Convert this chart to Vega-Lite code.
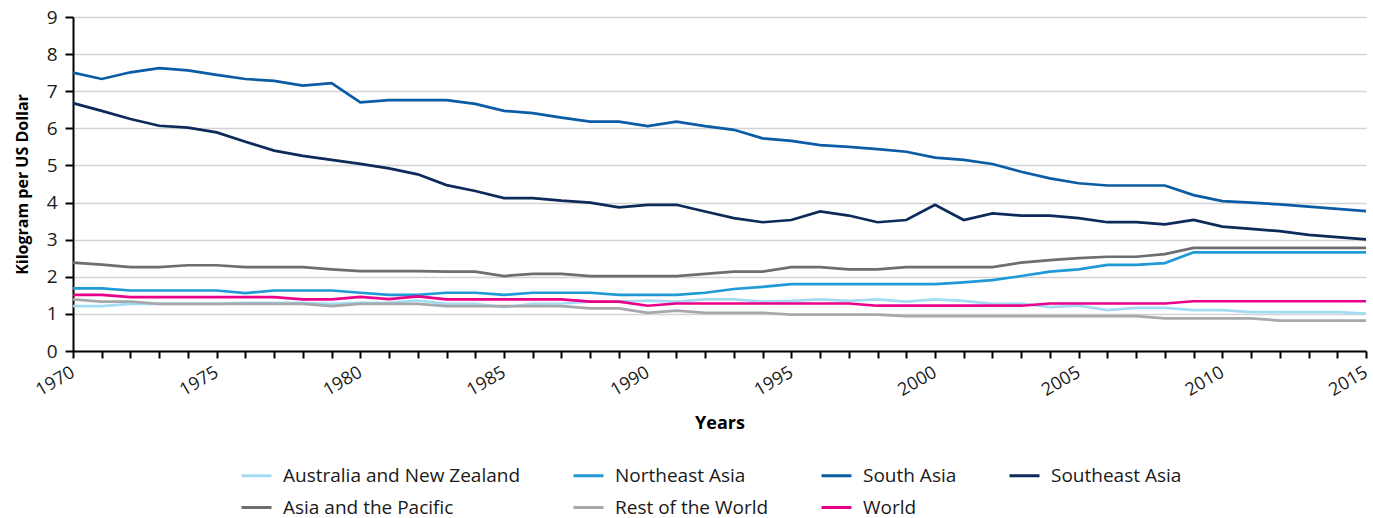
{
  "$schema": "https://vega.github.io/schema/vega-lite/v6.json",
  "width": 1293,
  "height": 334,
  "autosize": {"type": "none"},
  "padding": {"left": 73, "top": 17, "right": 7, "bottom": 167},
  "background": "white",
  "config": {
    "font": "Open Sans",
    "view": {"stroke": null}
  },
  "data": {
    "values": [
      {"year": 1970, "Australia and New Zealand": 1.21, "Northeast Asia": 1.69, "South Asia": 7.5, "Southeast Asia": 6.68, "Asia and the Pacific": 2.38, "Rest of the World": 1.39, "World": 1.51},
      {"year": 1971, "Australia and New Zealand": 1.21, "Northeast Asia": 1.69, "South Asia": 7.33, "Southeast Asia": 6.47, "Asia and the Pacific": 2.33, "Rest of the World": 1.33, "World": 1.51},
      {"year": 1972, "Australia and New Zealand": 1.27, "Northeast Asia": 1.63, "South Asia": 7.51, "Southeast Asia": 6.25, "Asia and the Pacific": 2.26, "Rest of the World": 1.33, "World": 1.45},
      {"year": 1973, "Australia and New Zealand": 1.27, "Northeast Asia": 1.63, "South Asia": 7.62, "Southeast Asia": 6.07, "Asia and the Pacific": 2.26, "Rest of the World": 1.27, "World": 1.45},
      {"year": 1974, "Australia and New Zealand": 1.27, "Northeast Asia": 1.63, "South Asia": 7.56, "Southeast Asia": 6.02, "Asia and the Pacific": 2.31, "Rest of the World": 1.27, "World": 1.45},
      {"year": 1975, "Australia and New Zealand": 1.27, "Northeast Asia": 1.63, "South Asia": 7.44, "Southeast Asia": 5.89, "Asia and the Pacific": 2.31, "Rest of the World": 1.27, "World": 1.45},
      {"year": 1976, "Australia and New Zealand": 1.3, "Northeast Asia": 1.56, "South Asia": 7.33, "Southeast Asia": 5.64, "Asia and the Pacific": 2.26, "Rest of the World": 1.27, "World": 1.45},
      {"year": 1977, "Australia and New Zealand": 1.3, "Northeast Asia": 1.63, "South Asia": 7.28, "Southeast Asia": 5.4, "Asia and the Pacific": 2.26, "Rest of the World": 1.27, "World": 1.45},
      {"year": 1978, "Australia and New Zealand": 1.3, "Northeast Asia": 1.63, "South Asia": 7.15, "Southeast Asia": 5.26, "Asia and the Pacific": 2.26, "Rest of the World": 1.27, "World": 1.39},
      {"year": 1979, "Australia and New Zealand": 1.27, "Northeast Asia": 1.63, "South Asia": 7.22, "Southeast Asia": 5.15, "Asia and the Pacific": 2.2, "Rest of the World": 1.21, "World": 1.39},
      {"year": 1980, "Australia and New Zealand": 1.3, "Northeast Asia": 1.57, "South Asia": 6.7, "Southeast Asia": 5.04, "Asia and the Pacific": 2.15, "Rest of the World": 1.27, "World": 1.46},
      {"year": 1981, "Australia and New Zealand": 1.3, "Northeast Asia": 1.51, "South Asia": 6.76, "Southeast Asia": 4.92, "Asia and the Pacific": 2.15, "Rest of the World": 1.27, "World": 1.4},
      {"year": 1982, "Australia and New Zealand": 1.36, "Northeast Asia": 1.51, "South Asia": 6.76, "Southeast Asia": 4.76, "Asia and the Pacific": 2.15, "Rest of the World": 1.27, "World": 1.47},
      {"year": 1983, "Australia and New Zealand": 1.27, "Northeast Asia": 1.57, "South Asia": 6.76, "Southeast Asia": 4.47, "Asia and the Pacific": 2.14, "Rest of the World": 1.21, "World": 1.39},
      {"year": 1984, "Australia and New Zealand": 1.27, "Northeast Asia": 1.57, "South Asia": 6.66, "Southeast Asia": 4.31, "Asia and the Pacific": 2.14, "Rest of the World": 1.21, "World": 1.39},
      {"year": 1985, "Australia and New Zealand": 1.18, "Northeast Asia": 1.51, "South Asia": 6.47, "Southeast Asia": 4.12, "Asia and the Pacific": 2.02, "Rest of the World": 1.21, "World": 1.39},
      {"year": 1986, "Australia and New Zealand": 1.27, "Northeast Asia": 1.57, "South Asia": 6.41, "Southeast Asia": 4.12, "Asia and the Pacific": 2.08, "Rest of the World": 1.21, "World": 1.39},
      {"year": 1987, "Australia and New Zealand": 1.28, "Northeast Asia": 1.57, "South Asia": 6.29, "Southeast Asia": 4.05, "Asia and the Pacific": 2.08, "Rest of the World": 1.21, "World": 1.39},
      {"year": 1988, "Australia and New Zealand": 1.33, "Northeast Asia": 1.57, "South Asia": 6.18, "Southeast Asia": 4.0, "Asia and the Pacific": 2.02, "Rest of the World": 1.15, "World": 1.33},
      {"year": 1989, "Australia and New Zealand": 1.33, "Northeast Asia": 1.51, "South Asia": 6.18, "Southeast Asia": 3.87, "Asia and the Pacific": 2.02, "Rest of the World": 1.15, "World": 1.33},
      {"year": 1990, "Australia and New Zealand": 1.36, "Northeast Asia": 1.51, "South Asia": 6.06, "Southeast Asia": 3.94, "Asia and the Pacific": 2.02, "Rest of the World": 1.03, "World": 1.22},
      {"year": 1991, "Australia and New Zealand": 1.33, "Northeast Asia": 1.51, "South Asia": 6.18, "Southeast Asia": 3.94, "Asia and the Pacific": 2.02, "Rest of the World": 1.09, "World": 1.28},
      {"year": 1992, "Australia and New Zealand": 1.39, "Northeast Asia": 1.57, "South Asia": 6.06, "Southeast Asia": 3.76, "Asia and the Pacific": 2.08, "Rest of the World": 1.03, "World": 1.28},
      {"year": 1993, "Australia and New Zealand": 1.39, "Northeast Asia": 1.67, "South Asia": 5.96, "Southeast Asia": 3.58, "Asia and the Pacific": 2.14, "Rest of the World": 1.03, "World": 1.28},
      {"year": 1994, "Australia and New Zealand": 1.33, "Northeast Asia": 1.73, "South Asia": 5.73, "Southeast Asia": 3.47, "Asia and the Pacific": 2.14, "Rest of the World": 1.03, "World": 1.28},
      {"year": 1995, "Australia and New Zealand": 1.35, "Northeast Asia": 1.8, "South Asia": 5.66, "Southeast Asia": 3.53, "Asia and the Pacific": 2.26, "Rest of the World": 0.98, "World": 1.28},
      {"year": 1996, "Australia and New Zealand": 1.39, "Northeast Asia": 1.8, "South Asia": 5.55, "Southeast Asia": 3.76, "Asia and the Pacific": 2.26, "Rest of the World": 0.98, "World": 1.28},
      {"year": 1997, "Australia and New Zealand": 1.35, "Northeast Asia": 1.8, "South Asia": 5.5, "Southeast Asia": 3.65, "Asia and the Pacific": 2.2, "Rest of the World": 0.98, "World": 1.28},
      {"year": 1998, "Australia and New Zealand": 1.39, "Northeast Asia": 1.8, "South Asia": 5.44, "Southeast Asia": 3.47, "Asia and the Pacific": 2.2, "Rest of the World": 0.98, "World": 1.22},
      {"year": 1999, "Australia and New Zealand": 1.33, "Northeast Asia": 1.8, "South Asia": 5.37, "Southeast Asia": 3.53, "Asia and the Pacific": 2.26, "Rest of the World": 0.94, "World": 1.22},
      {"year": 2000, "Australia and New Zealand": 1.39, "Northeast Asia": 1.8, "South Asia": 5.21, "Southeast Asia": 3.94, "Asia and the Pacific": 2.26, "Rest of the World": 0.94, "World": 1.22},
      {"year": 2001, "Australia and New Zealand": 1.35, "Northeast Asia": 1.85, "South Asia": 5.15, "Southeast Asia": 3.53, "Asia and the Pacific": 2.26, "Rest of the World": 0.94, "World": 1.22},
      {"year": 2002, "Australia and New Zealand": 1.27, "Northeast Asia": 1.91, "South Asia": 5.04, "Southeast Asia": 3.71, "Asia and the Pacific": 2.26, "Rest of the World": 0.94, "World": 1.22},
      {"year": 2003, "Australia and New Zealand": 1.28, "Northeast Asia": 2.02, "South Asia": 4.83, "Southeast Asia": 3.65, "Asia and the Pacific": 2.38, "Rest of the World": 0.94, "World": 1.22},
      {"year": 2004, "Australia and New Zealand": 1.18, "Northeast Asia": 2.14, "South Asia": 4.65, "Southeast Asia": 3.65, "Asia and the Pacific": 2.45, "Rest of the World": 0.94, "World": 1.28},
      {"year": 2005, "Australia and New Zealand": 1.22, "Northeast Asia": 2.2, "South Asia": 4.52, "Southeast Asia": 3.58, "Asia and the Pacific": 2.5, "Rest of the World": 0.94, "World": 1.28},
      {"year": 2006, "Australia and New Zealand": 1.1, "Northeast Asia": 2.32, "South Asia": 4.46, "Southeast Asia": 3.47, "Asia and the Pacific": 2.54, "Rest of the World": 0.94, "World": 1.28},
      {"year": 2007, "Australia and New Zealand": 1.16, "Northeast Asia": 2.32, "South Asia": 4.46, "Southeast Asia": 3.47, "Asia and the Pacific": 2.54, "Rest of the World": 0.94, "World": 1.28},
      {"year": 2008, "Australia and New Zealand": 1.16, "Northeast Asia": 2.37, "South Asia": 4.46, "Southeast Asia": 3.41, "Asia and the Pacific": 2.61, "Rest of the World": 0.88, "World": 1.28},
      {"year": 2009, "Australia and New Zealand": 1.1, "Northeast Asia": 2.66, "South Asia": 4.2, "Southeast Asia": 3.53, "Asia and the Pacific": 2.78, "Rest of the World": 0.88, "World": 1.34},
      {"year": 2010, "Australia and New Zealand": 1.1, "Northeast Asia": 2.66, "South Asia": 4.04, "Southeast Asia": 3.35, "Asia and the Pacific": 2.78, "Rest of the World": 0.88, "World": 1.34},
      {"year": 2011, "Australia and New Zealand": 1.05, "Northeast Asia": 2.66, "South Asia": 4.0, "Southeast Asia": 3.29, "Asia and the Pacific": 2.78, "Rest of the World": 0.88, "World": 1.34},
      {"year": 2012, "Australia and New Zealand": 1.05, "Northeast Asia": 2.66, "South Asia": 3.95, "Southeast Asia": 3.23, "Asia and the Pacific": 2.78, "Rest of the World": 0.82, "World": 1.34},
      {"year": 2013, "Australia and New Zealand": 1.05, "Northeast Asia": 2.66, "South Asia": 3.89, "Southeast Asia": 3.13, "Asia and the Pacific": 2.78, "Rest of the World": 0.82, "World": 1.34},
      {"year": 2014, "Australia and New Zealand": 1.05, "Northeast Asia": 2.66, "South Asia": 3.83, "Southeast Asia": 3.07, "Asia and the Pacific": 2.78, "Rest of the World": 0.82, "World": 1.34},
      {"year": 2015, "Australia and New Zealand": 1.01, "Northeast Asia": 2.66, "South Asia": 3.77, "Southeast Asia": 3.01, "Asia and the Pacific": 2.78, "Rest of the World": 0.82, "World": 1.34}
    ]
  },
  "transform": [
    {"fold": ["Australia and New Zealand", "Northeast Asia", "South Asia", "Southeast Asia", "Asia and the Pacific", "Rest of the World", "World"], "as": ["region", "value"]}
  ],
  "mark": {"type": "line", "strokeWidth": 2.7},
  "encoding": {
    "x": {
      "field": "year",
      "type": "quantitative",
      "scale": {"domain": [1970, 2015], "nice": false, "zero": false},
      "axis": {
        "title": "Years",
        "values": [1970,1971,1972,1973,1974,1975,1976,1977,1978,1979,1980,1981,1982,1983,1984,1985,1986,1987,1988,1989,1990,1991,1992,1993,1994,1995,1996,1997,1998,1999,2000,2001,2002,2003,2004,2005,2006,2007,2008,2009,2010,2011,2012,2013,2014,2015],
        "format": "d",
        "labelExpr": "datum.value % 5 === 0 ? datum.label : ''",
        "labelOverlap": false,
        "labelFlush": false,
        "grid": false,
        "domainColor": "#000000",
        "domainWidth": 2,
        "tickColor": "#000000",
        "tickWidth": 2,
        "tickSize": 7,
        "labelAngle": -30,
        "labelAlign": "right",
        "labelBaseline": "middle",
        "labelFontSize": 18,
        "labelColor": "#1a1a1a",
        "labelPadding": 13,
        "titleFontWeight": "bold",
        "titleFontSize": 18,
        "titleColor": "#000000",
        "titlePadding": 15
      }
    },
    "y": {
      "field": "value",
      "type": "quantitative",
      "scale": {"domain": [0, 9], "nice": false},
      "axis": {
        "title": "Kilogram per US Dollar",
        "values": [0,1,2,3,4,5,6,7,8,9],
        "grid": true,
        "gridColor": "#d3d3d3",
        "gridWidth": 1.5,
        "domainColor": "#000000",
        "domainWidth": 2,
        "tickColor": "#000000",
        "tickWidth": 2,
        "tickSize": 8,
        "labelFontSize": 19,
        "labelColor": "#1a1a1a",
        "labelPadding": 8,
        "titleFontWeight": "bold",
        "titleFontSize": 16,
        "titleColor": "#000000",
        "titlePadding": 16
      }
    },
    "color": {
      "field": "region",
      "type": "nominal",
      "scale": {
        "domain": ["Australia and New Zealand", "Northeast Asia", "South Asia", "Southeast Asia", "Asia and the Pacific", "Rest of the World", "World"],
        "range": ["#a3dbf5", "#1f9ad7", "#0b5ca4", "#0d2a5a", "#6d6e71", "#a6a8ab", "#e9008b"]
      },
      "legend": {
        "title": null,
        "orient": "none",
        "legendX": 167,
        "legendY": 442,
        "direction": "horizontal",
        "columns": 4,
        "symbolType": "stroke",
        "symbolSize": 900,
        "symbolStrokeWidth": 3,
        "labelFontSize": 19,
        "labelColor": "#1a1a1a",
        "labelOffset": 10,
        "columnPadding": 46,
        "rowPadding": 5,
        "labelLimit": 400
      }
    }
  }
}
